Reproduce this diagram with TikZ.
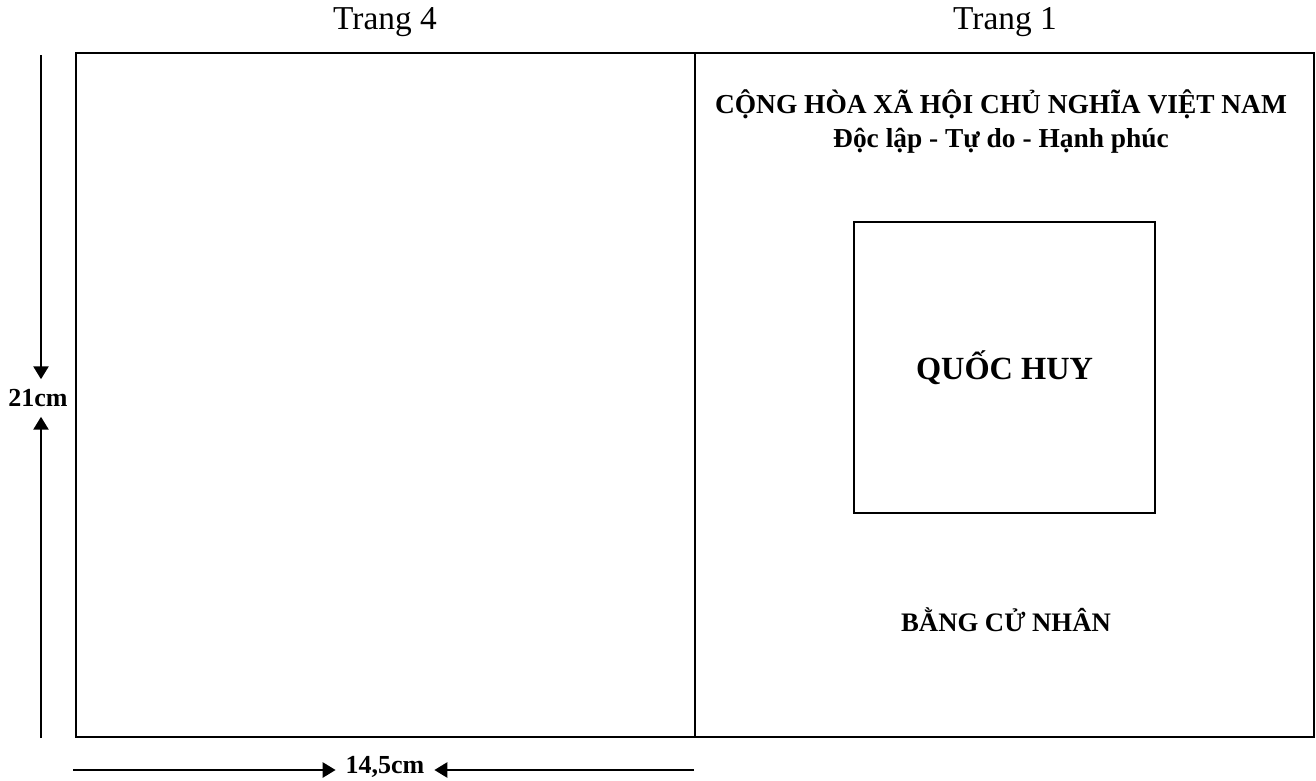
\documentclass[tikz,border=0pt]{standalone}
\usepackage{fontspec}
\setmainfont{Liberation Serif}
\usetikzlibrary{arrows.meta,positioning,calc}

\begin{document}
\begin{tikzpicture}[x=0.02cm,y=-0.02cm,
  dimline/.style={line width=1.5pt,-{Triangle[length=2.6mm,width=3mm]}},
  dimlabel/.style={font=\bfseries\fontsize{14.8}{17}\selectfont,inner sep=5.5pt},
  pagetitle/.style={font=\fontsize{19}{22}\selectfont,inner sep=0pt},
  header/.style={font=\bfseries\fontsize{15.6}{19}\selectfont,inner sep=0pt}]
\useasboundingbox (0,0) rectangle (1316,781);
% the two pages
\coordinate (A) at (76,53);
\coordinate (B) at (1314,737);
\coordinate (F) at (695,53);
\draw[line width=1.5pt] (A) rectangle (B);
\draw[line width=1.1pt] (F) -- (F |- B);
\node[pagetitle] (T4) at (385,22) {Trang 4};
\node[pagetitle] (T1) at (1005,22) {Trang 1};
% page 1
\node[header] (CH) at (1001,104) {CỘNG HÒA XÃ HỘI CHỦ NGHĨA VIỆT NAM};
\node[header,below=5pt of CH] (DL) {Độc lập - Tự do - Hạnh phúc};
\draw[line width=1.1pt] (854,222) coordinate (Q1) rectangle (1155,513) coordinate (Q2);
\node[font=\bfseries\fontsize{18.4}{22}\selectfont] (QH) at ($(Q1)!0.5!(Q2)$) {QUỐC HUY};
\node[font=\bfseries\fontsize{15.2}{18}\selectfont] (BC) at (1006,620) {BẰNG CỬ NHÂN};
% height
\coordinate (H1) at (41,55);
\coordinate (H2) at (41,738);
\node[dimlabel] (HL) at (38,398) {21cm};
\draw[dimline] (H1) -- (H1 |- HL.north);
\draw[dimline] (H2) -- (H2 |- HL.south);
% width
\coordinate (W1) at (73,770);
\coordinate (W2) at (694,770);
\node[dimlabel] (WL) at (385,767) {14,5cm};
\draw[dimline] (W1) -- (W1 -| WL.west);
\draw[dimline] (W2) -- (W2 -| WL.east);
\end{tikzpicture}
\end{document}
